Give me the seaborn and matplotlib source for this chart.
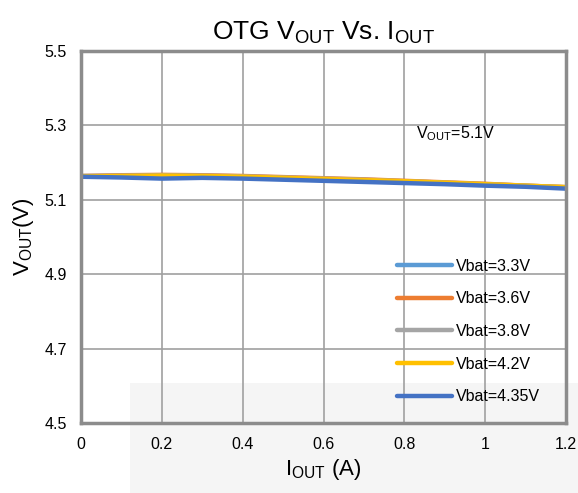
import pandas as pd
import matplotlib
matplotlib.use('Agg')
import matplotlib.pyplot as plt
import seaborn as sns
from matplotlib.patches import Rectangle

iout = [0, 0.1, 0.2, 0.3, 0.4, 0.5, 0.6, 0.7, 0.8, 0.9, 1.0, 1.1, 1.2]
v33 = [5.163, 5.164, 5.163, 5.162, 5.160, 5.157, 5.154, 5.151, 5.148, 5.145, 5.141, 5.137, 5.132]
v36 = [5.164, 5.166, 5.167, 5.166, 5.164, 5.161, 5.158, 5.155, 5.151, 5.147, 5.143, 5.138, 5.134]
v38 = [5.164, 5.165, 5.166, 5.165, 5.163, 5.160, 5.157, 5.154, 5.150, 5.146, 5.142, 5.138, 5.134]
v42 = [5.163, 5.164, 5.165, 5.164, 5.162, 5.159, 5.156, 5.153, 5.150, 5.146, 5.142, 5.138, 5.134]
v435 = [5.162, 5.160, 5.157, 5.159, 5.157, 5.154, 5.151, 5.148, 5.145, 5.142, 5.138, 5.135, 5.130]
labels = ['Vbat=3.3V', 'Vbat=3.6V', 'Vbat=3.8V', 'Vbat=4.2V', 'Vbat=4.35V']
colors = ['#5B9BD5', '#ED7D31', '#A5A5A5', '#FFC000', '#4472C4']

df = pd.concat([pd.DataFrame({'I': iout, 'V': v, 'bat': lab})
                for v, lab in zip([v33, v36, v38, v42, v435], labels)])

sns.set_style('white')
plt.rcParams['font.family'] = ['Liberation Sans', 'DejaVu Sans']
plt.rcParams['mathtext.fontset'] = 'custom'
plt.rcParams['mathtext.rm'] = 'Liberation Sans'
plt.rcParams['text.color'] = 'black'
plt.rcParams['axes.labelcolor'] = 'black'
plt.rcParams['xtick.color'] = 'black'
plt.rcParams['ytick.color'] = 'black'

fig = plt.figure(figsize=(5.78, 4.93), dpi=100)
# faint background band at the bottom
fig.patches.append(Rectangle((130 / 578, 0), 1, 110 / 493, transform=fig.transFigure,
                             facecolor='#f5f5f5', edgecolor='none', zorder=-10))
ax = fig.add_axes([81 / 578, 70 / 493, 485 / 578, 372 / 493])
ax.set_facecolor('none')

sns.lineplot(data=df, x='I', y='V', hue='bat', palette=colors, linewidth=3.2,
             ax=ax, legend=True)

ax.set_xlim(0, 1.2)
ax.set_ylim(4.5, 5.5)
ax.set_xticks([0, 0.2, 0.4, 0.6, 0.8, 1.0, 1.2])
ax.set_xticklabels(['0', '0.2', '0.4', '0.6', '0.8', '1', '1.2'])
ax.set_yticks([4.5, 4.7, 4.9, 5.1, 5.3, 5.5])
ax.set_yticklabels(['4.5', '4.7', '4.9', '5.1', '5.3', '5.5'])
ax.tick_params(labelsize=11.5, length=0, pad=10)
ax.grid(True, color='#a0a0a0', linewidth=1.2)
ax.set_axisbelow(True)
for s in ax.spines.values():
    s.set_color('#8c8c8c')
    s.set_linewidth(2.5)

ax.set_title(r'OTG V$_{\mathrm{OUT}}$ Vs. I$_{\mathrm{OUT}}$', fontsize=19, pad=8)
ax.set_xlabel(r'I$_{\mathrm{OUT}}$ (A)', fontsize=16, labelpad=4)
ax.set_ylabel(r'V$_{\mathrm{OUT}}$(V)', fontsize=16, labelpad=6)
ax.text(0.83, 5.265, r'V$_{\mathrm{OUT}}$=5.1V', fontsize=11.5)

leg = ax.legend(loc='lower right', bbox_to_anchor=(0.975, 0.012), frameon=False,
                fontsize=11.5, handlelength=3.4, labelspacing=1.1, handletextpad=0.25)
for line in leg.get_lines():
    line.set_linewidth(3.2)

fig.savefig('out.png', dpi=100)
